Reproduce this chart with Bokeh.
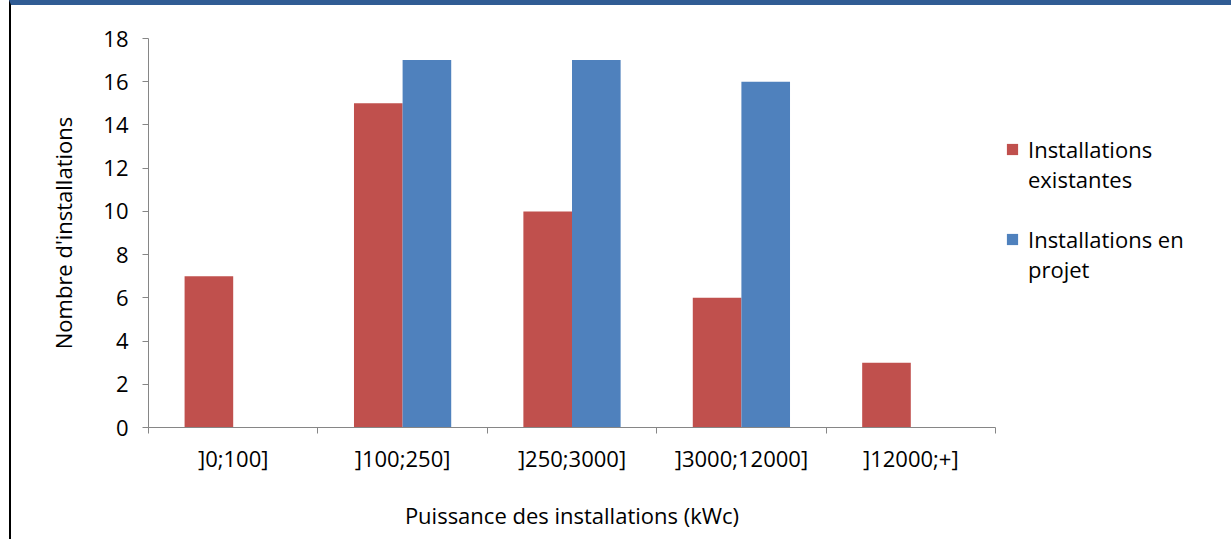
from bokeh.plotting import figure
from bokeh.models import Range1d, FixedTicker, Legend, LegendItem, ColumnDataSource
from bokeh.embed import file_html
from bokeh.resources import INLINE

categories = ["]0;100]", "]100;250]", "]250;3000]", "]3000;12000]", "]12000;+]"]
existantes = [7, 15, 10, 6, 3]
en_projet = [0, 17, 17, 16, 0]
y_ticks = [0, 2, 4, 6, 8, 10, 12, 14, 16, 18]
legend_lines = [["Installations", "existantes"], ["Installations en", "projet"]]
colors = ["#C0504D", "#4F81BD"]

FONT = "Open Sans"
FS = "22px"
BAR_W = 0.287

idx = list(range(len(categories)))
src = ColumnDataSource(dict(
    x_red=[i + 0.5 - BAR_W / 2 for i in idx],
    x_blue=[i + 0.5 + BAR_W / 2 for i in idx],
    existantes=existantes,
    en_projet=en_projet,
))

p = figure(frame_width=847, frame_height=389, output_backend="svg", toolbar_location=None,
           x_range=Range1d(0, len(categories)), y_range=Range1d(0, 18),
           min_border_left=137, min_border_top=33, min_border_bottom=112,
           min_border_right=235)

r1 = p.vbar(x="x_red", top="existantes", width=BAR_W, source=src,
            fill_color=colors[0], line_color=None)
r2 = p.vbar(x="x_blue", top="en_projet", width=BAR_W, source=src,
            fill_color=colors[1], line_color=None)
# invisible renderer used only for the continuation lines / spacer of the legend
blank = p.vbar(x=[], top=[], width=BAR_W, fill_alpha=0, line_color=None)

p.xgrid.visible = False
p.ygrid.visible = False
p.outline_line_color = None
p.styles = {"margin-left": "9px", "border-left": "2px solid #000000",
            "border-top": "5px solid #305C94"}

AX = "#868686"
xa = p.xaxis[0]
xa.ticker = FixedTicker(ticks=[i + 0.5 for i in idx], minor_ticks=list(range(len(categories) + 1)))
xa.major_label_overrides = {i + 0.5: c for i, c in zip(idx, categories)}
xa.major_tick_out = 0
xa.major_tick_in = 0
xa.minor_tick_out = 6
xa.minor_tick_in = 0
xa.minor_tick_line_color = AX
xa.axis_line_color = AX
xa.major_label_text_font = FONT
xa.major_label_text_font_size = FS
xa.major_label_text_color = "#000000"
xa.major_label_standoff = 9
xa.axis_label = "Puissance des installations (kWc)"
xa.axis_label_text_font = FONT
xa.axis_label_text_font_size = FS
xa.axis_label_text_font_style = "normal"
xa.axis_label_text_color = "#000000"
xa.axis_label_standoff = 24

ya = p.yaxis[0]
ya.ticker = FixedTicker(ticks=y_ticks)
ya.major_tick_out = 6
ya.major_tick_in = 0
ya.minor_tick_out = 0
ya.minor_tick_in = 0
ya.major_tick_line_color = AX
ya.axis_line_color = AX
ya.major_label_text_font = FONT
ya.major_label_text_font_size = FS
ya.major_label_text_color = "#000000"
ya.major_label_standoff = 14
ya.axis_label = "Nombre d'installations"
ya.axis_label_text_font = FONT
ya.axis_label_text_font_size = FS
ya.axis_label_text_font_style = "normal"
ya.axis_label_text_color = "#000000"
ya.axis_label_standoff = 22

items = [
    LegendItem(label=legend_lines[0][0], renderers=[r1]),
    LegendItem(label=legend_lines[0][1], renderers=[blank]),
    LegendItem(label=" ", renderers=[blank]),
    LegendItem(label=legend_lines[1][0], renderers=[r2]),
    LegendItem(label=legend_lines[1][1], renderers=[blank]),
]
legend = Legend(items=items, location=(10, 143), orientation="vertical",
                label_text_font=FONT, label_text_font_size=FS,
                label_text_color="#000000", label_height=30, label_text_line_height=1.0,
                glyph_width=14, glyph_height=14, spacing=0,
                border_line_color=None, background_fill_alpha=0,
                margin=0, padding=0, label_standoff=9)
p.add_layout(legend, "right")

open("out.html", "w").write(file_html(p, INLINE))
